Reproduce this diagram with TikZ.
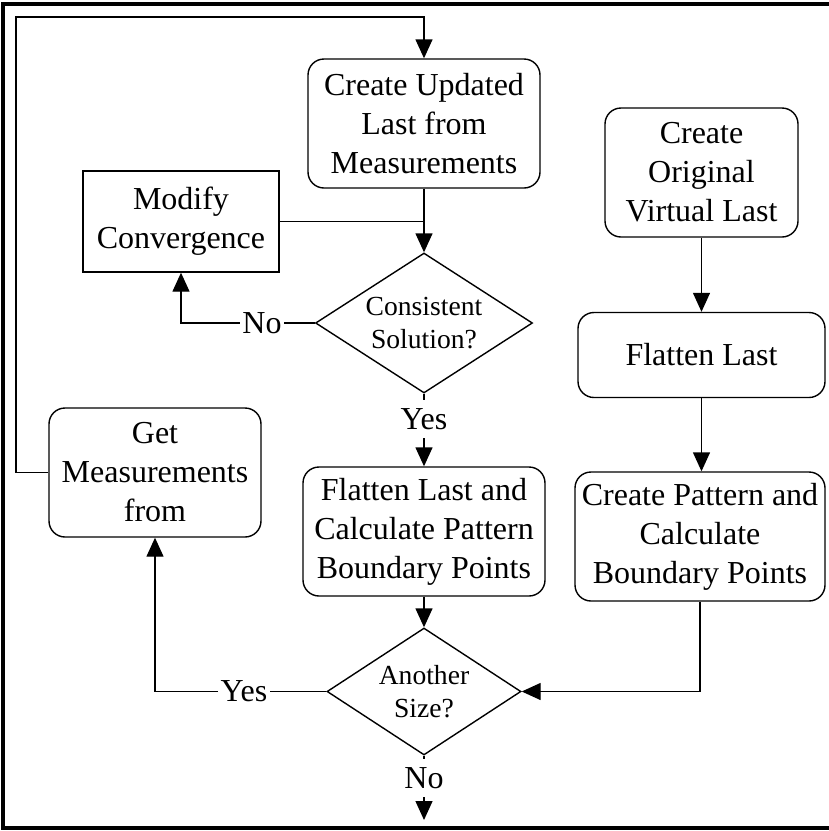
\documentclass[tikz,border=0pt]{standalone}
\usepackage{fontspec}
\setmainfont{Liberation Serif}
\usepackage{tikz}
\usetikzlibrary{shapes.geometric,arrows.meta}

\begin{document}
\begin{tikzpicture}[
        x=0.5pt, y=-0.5pt,
        font=\fontsize{16}{19.5}\selectfont,
        line width=0.7pt,
        proc/.style={rectangle, draw, rounded corners=8pt, align=center, inner sep=2pt},
        plain/.style={rectangle, draw, align=center, inner sep=2pt},
        decision/.style={diamond, draw, align=center, inner sep=0pt, font=\fontsize{13.8}{16.5}\selectfont},
        lbl/.style={inner xsep=1pt, inner ysep=4pt},
        flow/.style={-{Triangle[length=9.5pt,width=8.5pt]}}
    ]
        \useasboundingbox (0,0) rectangle (829,831);
        % outer frame
        \draw[line width=1.6pt] (829,4) -- (3,4) -- (3,828) -- (829,828);

        % left column: size loop
        \node[proc, minimum width=116pt, minimum height=64.5pt] (upd) at (424,123.5) {Create Updated\\Last from\\Measurements};
        \node[plain, minimum width=98pt, minimum height=50.5pt] (mod) at (181,221.5) {Modify\\Convergence};
        \node[decision, minimum width=108.5pt, minimum height=70pt, aspect=1.55] (cons) at (424,323) {Consistent\\Solution?};
        \node[proc, minimum width=106pt, minimum height=64.5pt] (get) at (155,472.5) {Get\\Measurements\\from};
        \node[proc, minimum width=121pt, minimum height=64.5pt] (flat1) at (424,531.5) {Flatten Last and\\Calculate Pattern\\Boundary Points};
        \node[decision, minimum width=97pt, minimum height=63.5pt, aspect=1.53] (another) at (424,691.5) {Another\\Size?};

        % right column: original last
        \node[proc, minimum width=96.5pt, minimum height=64.5pt] (orig) at (701.5,172.5) {Create\\Original\\Virtual Last};
        \node[proc, minimum width=123.5pt, minimum height=42.5pt] (flat2) at (701.5,355) {Flatten Last};
        \node[proc, minimum width=125pt, minimum height=64.5pt] (pat) at (700,536.5) {Create Pattern and\\Calculate\\Boundary Points};

        % branch labels
        \node[lbl] (no1) at (262,323) {No};
        \node[lbl] (yes1) at (424,419) {Yes};
        \node[lbl] (yes2) at (244,691.5) {Yes};
        \node[lbl] (no2) at (424,778) {No};
        \coordinate (loop) at (16,17);
        \coordinate (done) at (424,820);

        \draw[flow] (get.west) -| (loop) -| (upd.north);
        \draw[flow] (upd.south) -- (cons.north);
        \draw (mod.east) -- (mod.east -| cons.north);
        \draw (cons.west) -- (no1.east);
        \draw[flow] (no1.west) -| (mod.south);
        \draw (cons.south) -- (yes1.north);
        \draw[flow] (yes1.south) -- (flat1.north);
        \draw[flow] (flat1.south) -- (another.north);
        \draw (another.west) -- (yes2.east);
        \draw[flow] (yes2.west) -| (get.south);
        \draw (another.south) -- (no2.north);
        \draw[flow] (no2.south) -- (done);
        \draw[flow] (orig.south) -- (flat2.north);
        \draw[flow] (flat2.south) -- (flat2.south |- pat.north);
        \draw[flow] (pat.south) |- (another.east);
    \end{tikzpicture}
\end{document}
